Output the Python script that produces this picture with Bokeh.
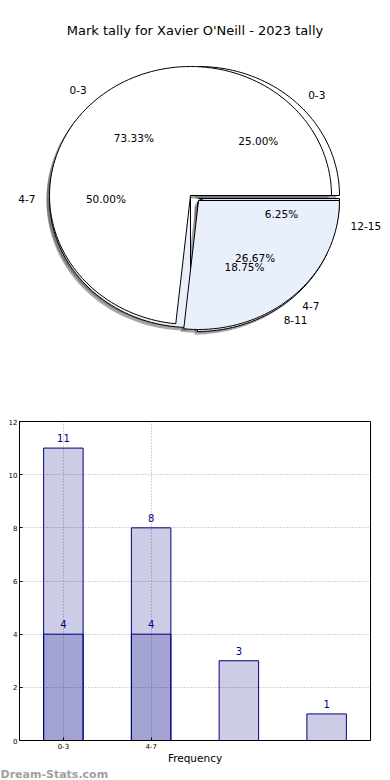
import math
from bokeh.plotting import figure
from bokeh.layouts import column
from bokeh.models import Range1d, FixedTicker
from bokeh.core.properties import value
from bokeh.embed import file_html
from bokeh.resources import INLINE

# ---------------- data ----------------
title_text = "Mark tally for Xavier O'Neill - 2023 tally"
categories = ["0-3", "4-7", "8-11", "12-15"]
series_a = [11, 4]          # first series (only first two categories)
series_b = [4, 8, 3, 1]     # second series
y_ticks = [0, 2, 4, 6, 8, 10, 12]
x_label = "Frequency"
watermark = "Dream-Stats.com"

# ---------------- style ----------------
FONT = "DejaVu Sans"
W = 390
H1 = 411
H2 = 356
H3 = 13
RX, RY = 141, 129
center_a = (190, 195)
center_b = (190, 198)
explode_a = [(0, 0), (8, 5)]
explode_b = [(8, -3), (0, 0), (7, 4), (8, 0)]
colors_a = ["#ffffff", "#e9effb"]
colors_b = ["#ffffff", "#e9effb", "#e9effb", "#d5e3f6"]
shadow_off = (-3, 3)


def no_align(fig):
    try:
        fig.frame_align = False
    except Exception:
        pass


pie = figure(width=W, height=H1, x_range=Range1d(0, W), y_range=Range1d(H1, 0),
             output_backend="svg", toolbar_location=None,
             min_border_left=0, min_border_right=0, min_border_top=0, min_border_bottom=0,
             x_axis_location=None, y_axis_location=None)
no_align(pie)
pie.grid.visible = False
pie.outline_line_color = None
pie.background_fill_color = "white"


def wedges(vals, center, explode):
    total = float(sum(vals))
    out = []
    start = 0.0
    for v, (dx, dy) in zip(vals, explode):
        frac = v / total
        t0 = start * 360.0
        t1 = (start + frac) * 360.0
        n = max(4, int((t1 - t0) / 2))
        cx, cy = center[0] + dx, center[1] + dy
        xs = [cx]
        ys = [cy]
        for i in range(n + 1):
            t = math.radians(t0 + (t1 - t0) * i / n)
            xs.append(cx + RX * math.cos(t))
            ys.append(cy - RY * math.sin(t))
        mid = math.radians((t0 + t1) / 2)
        out.append(dict(xs=xs, ys=ys, cx=cx, cy=cy, mid=mid, frac=frac))
        start += frac
    return out


wa = wedges(series_a, center_a, explode_a)
wb = wedges(series_b, center_b, explode_b)

# shadows (below everything)
for w in wb + wa:
    pie.patch([x + shadow_off[0] for x in w["xs"]], [y + shadow_off[1] for y in w["ys"]],
              fill_color="#4d4d4d", fill_alpha=0.5, line_color=None)
# second pie underneath, then first pie
for w, c in zip(wb, colors_b):
    pie.patch(w["xs"], w["ys"], fill_color=c, line_color="black", line_width=1)
for w, c in zip(wa, colors_a):
    pie.patch(w["xs"], w["ys"], fill_color=c, line_color="black", line_width=1)

for ws, cats in ((wb, categories), (wa, categories)):
    for w, cat in zip(ws, cats):
        cm, sm = math.cos(w["mid"]), math.sin(w["mid"])
        lx = w["cx"] + 1.1 * RX * cm
        ly = w["cy"] - 1.1 * RY * sm
        pie.text(x=[lx], y=[ly], text=[cat], text_align="left" if cm > 0 else "right",
                 text_baseline="middle", text_font=value(FONT), text_font_size="10.5px",
                 text_color="black")
        px = w["cx"] + 0.6 * RX * cm
        py = w["cy"] - 0.6 * RY * sm
        pie.text(x=[px], y=[py], text=["%.2f%%" % (w["frac"] * 100)], text_align="center",
                 text_baseline="middle", text_font=value(FONT), text_font_size="10.5px",
                 text_color="black")

pie.text(x=[194.5], y=[30], text=[title_text], text_align="center", text_baseline="middle",
         text_font=value(FONT), text_font_size="13px", text_color="black")

# ---------------- bar chart ----------------
bar = figure(width=W, height=H2, x_range=Range1d(-0.5, len(categories) - 0.5),
             y_range=Range1d(0, y_ticks[-1]), output_backend="svg", toolbar_location=None,
             min_border_left=19, min_border_right=20, min_border_top=10, min_border_bottom=27)
no_align(bar)
xs_a = list(range(len(series_a)))
xs_b = list(range(len(series_b)))

for xs, vals in ((xs_b, series_b), (xs_a, series_a)):
    bar.vbar(x=xs, top=vals, width=0.45, fill_color="navy", fill_alpha=0.2,
             line_color="navy", line_width=1)
    bar.text(x=xs, y=vals, text=[str(v) for v in vals], text_align="center",
             text_baseline="bottom", y_offset=-6, text_font=value(FONT),
             text_font_size="10px", text_color="navy")

bar.xaxis.ticker = FixedTicker(ticks=xs_a)
bar.xaxis.major_label_overrides = {i: categories[i] for i in xs_a}
bar.yaxis.ticker = FixedTicker(ticks=y_ticks)
for ax in (bar.xaxis, bar.yaxis):
    ax.major_tick_in = 3
    ax.major_tick_out = 0
    ax.minor_tick_line_color = None
    ax.major_label_text_font = FONT
    ax.major_label_text_font_size = "7px"
    ax.major_label_text_color = "black"
    ax.axis_line_color = "black"
    ax.major_tick_line_color = "black"
bar.yaxis.major_label_standoff = 2
bar.xaxis.major_label_standoff = 2
bar.xaxis.axis_label = x_label
bar.xaxis.axis_label_text_font = FONT
bar.xaxis.axis_label_text_font_style = "normal"
bar.xaxis.axis_label_text_font_size = "10.5px"
bar.xaxis.axis_label_standoff = 0
bar.xaxis.axis_label_text_color = "black"

bar.xgrid.grid_line_dash = "1 2"
bar.ygrid.grid_line_dash = "1 2"
bar.xgrid.grid_line_color = "#a8a8a8"
bar.ygrid.grid_line_color = "#a8a8a8"
bar.outline_line_color = "black"
bar.outline_line_alpha = 1

# ---------------- watermark strip ----------------
wm = figure(width=W, height=H3, x_range=Range1d(0, W), y_range=Range1d(H3, 0),
            output_backend="svg", toolbar_location=None,
            min_border_left=0, min_border_right=0, min_border_top=0, min_border_bottom=0,
            x_axis_location=None, y_axis_location=None)
no_align(wm)
wm.grid.visible = False
wm.outline_line_color = None
wm.text(x=[0], y=[H3 / 2.0], text=[watermark], text_align="left", text_baseline="middle",
        text_font=value(FONT), text_font_size="11px", text_font_style="bold",
        text_color="#a0a0a0")

layout = column(pie, bar, wm)
open("out.html", "w").write(file_html(layout, INLINE))
